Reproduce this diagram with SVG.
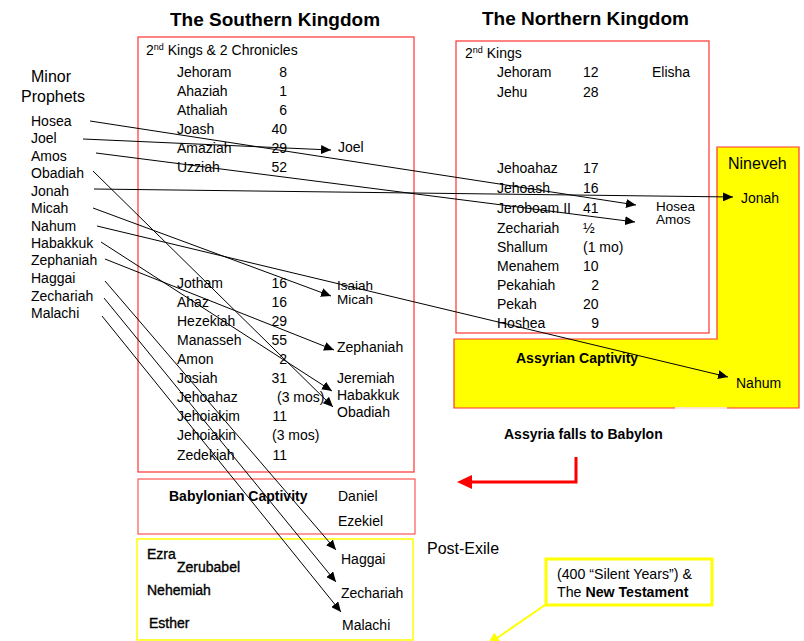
<svg xmlns="http://www.w3.org/2000/svg" width="804" height="641" viewBox="0 0 804 641">
<style>
text{font-family:"Liberation Sans",Arial,sans-serif;font-size:14px;fill:#000}
.title{font-size:19px;font-weight:bold}
.big{font-size:16px}
.b{font-weight:bold}
.sm{font-size:14.2px}
.pe{font-size:14px;stroke:#000;stroke-width:0.35}
.tight{font-size:13.5px}
.redbox{fill:#fff;stroke:#f33;stroke-width:1.2}
.con{stroke:#000;stroke-width:1;fill:none;marker-end:url(#ah)}
</style>
<defs>
<marker id="ah" markerUnits="userSpaceOnUse" markerWidth="11" markerHeight="9" refX="10" refY="4.5" orient="auto">
<path d="M0,0 L10,4.5 L0,9 z" fill="#000"/>
</marker>
<marker id="yah" markerUnits="userSpaceOnUse" markerWidth="14" markerHeight="12" refX="13" refY="6" orient="auto">
<path d="M0,0 L13,6 L0,12 z" fill="#ff0"/>
</marker>
</defs>
<rect width="804" height="641" fill="#fff"/>

<g id="titles">
<text class="title" x="170" y="26">The Southern Kingdom</text>
<text class="title" x="482" y="25">The Northern Kingdom</text>
</g>

<g id="minor-prophets">
<text class="big" x="31" y="82">Minor</text>
<text class="big" x="21" y="102">Prophets</text>
<text x="31" y="126">Hosea</text>
<text x="31" y="143">Joel</text>
<text x="31" y="161">Amos</text>
<text x="31" y="178">Obadiah</text>
<text x="31" y="196">Jonah</text>
<text x="31" y="213">Micah</text>
<text x="31" y="231">Nahum</text>
<text x="31" y="248">Habakkuk</text>
<text x="31" y="265">Zephaniah</text>
<text x="31" y="283">Haggai</text>
<text x="31" y="301">Zechariah</text>
<text x="31" y="318">Malachi</text>
</g>

<g id="southern-kingdom">
<rect class="redbox" x="138" y="37" width="276" height="435"/>
<text x="146" y="55">2<tspan font-size="9" dy="-5">nd</tspan><tspan dy="5"> Kings &amp; 2 Chronicles</tspan></text>
<text x="177" y="77">Jehoram</text><text x="287" y="77" text-anchor="end">8</text>
<text x="177" y="96">Ahaziah</text><text x="287" y="96" text-anchor="end">1</text>
<text x="177" y="115">Athaliah</text><text x="287" y="115" text-anchor="end">6</text>
<text x="177" y="134">Joash</text><text x="287" y="134" text-anchor="end">40</text>
<text x="177" y="153">Amaziah</text><text x="287" y="153" text-anchor="end">29</text>
<text x="177" y="172">Uzziah</text><text x="287" y="172" text-anchor="end">52</text>
<text x="177" y="288">Jotham</text><text x="287" y="288" text-anchor="end">16</text>
<text x="177" y="307">Ahaz</text><text x="287" y="307" text-anchor="end">16</text>
<text x="177" y="326">Hezekiah</text><text x="287" y="326" text-anchor="end">29</text>
<text x="177" y="345">Manasseh</text><text x="287" y="345" text-anchor="end">55</text>
<text x="177" y="364">Amon</text><text x="287" y="364" text-anchor="end">2</text>
<text x="177" y="383">Josiah</text><text x="287" y="383" text-anchor="end">31</text>
<text x="177" y="402">Jehoahaz</text><text x="277" y="402">(3 mos)</text>
<text x="177" y="421">Jehoiakim</text><text x="287" y="421" text-anchor="end">11</text>
<text x="177" y="440">Jehoiakin</text><text x="272" y="440">(3 mos)</text>
<text x="177" y="460">Zedekiah</text><text x="287" y="460" text-anchor="end">11</text>
</g>

<g id="southern-prophets">
<text x="338" y="152">Joel</text>
<text class="tight" x="337" y="290">Isaiah</text>
<text class="tight" x="337" y="304">Micah</text>
<text x="337" y="352">Zephaniah</text>
<text x="337" y="383">Jeremiah</text>
<text x="337" y="400">Habakkuk</text>
<text x="337" y="417">Obadiah</text>
</g>

<g id="babylonian-captivity">
<rect x="138" y="479" width="277" height="55" fill="#fff" stroke="#f55" stroke-width="1.2"/>
<text class="b" x="169" y="501">Babylonian Captivity</text>
<text x="338" y="501">Daniel</text>
<text x="338" y="526">Ezekiel</text>
</g>

<g id="post-exile">
<rect x="137" y="539" width="276" height="101" fill="#fff" stroke="#ff0" stroke-width="1.5"/>
<text class="big" x="427" y="554">Post-Exile</text>
<text class="pe" x="147" y="559">Ezra</text>
<text class="pe" x="177" y="572">Zerubabel</text>
<text class="pe" x="147" y="595">Nehemiah</text>
<text class="pe" x="149" y="628">Esther</text>
<text x="341" y="564">Haggai</text>
<text x="341" y="598">Zechariah</text>
<text x="342" y="630">Malachi</text>
</g>

<g id="assyria">
<path d="M717,147 H799 V408 H454 V339 H717 Z" fill="#ff0" stroke="#f33" stroke-width="1.2"/>
<line x1="675" y1="408" x2="727" y2="408" stroke="#fff" stroke-width="1.5"/>
<text class="big" x="728" y="169">Nineveh</text>
<text x="741" y="203">Jonah</text>
<text class="b" x="516" y="363">Assyrian Captivity</text>
<text x="736" y="388">Nahum</text>
</g>

<g id="northern-kingdom">
<rect class="redbox" x="456" y="41" width="253" height="292"/>
<text x="465" y="58">2<tspan font-size="9" dy="-5">nd</tspan><tspan dy="5"> Kings</tspan></text>
<text x="497" y="77">Jehoram</text><text x="583" y="77">12</text><text x="652" y="77">Elisha</text>
<text x="497" y="97">Jehu</text><text x="583" y="97">28</text>
<text x="497" y="173">Jehoahaz</text><text x="583" y="173">17</text>
<text x="497" y="193">Jehoash</text><text x="583" y="193">16</text>
<text x="497" y="213">Jeroboam II</text><text x="583" y="213">41</text>
<text x="497" y="233">Zechariah</text><text x="583" y="233">½</text>
<text x="497" y="252">Shallum</text><text x="583" y="252">(1 mo)</text>
<text x="497" y="271">Menahem</text><text x="583" y="271">10</text>
<text x="497" y="290">Pekahiah</text><text x="599" y="290" text-anchor="end">2</text>
<text x="497" y="309">Pekah</text><text x="583" y="309">20</text>
<text x="497" y="328">Hoshea</text><text x="599" y="328" text-anchor="end">9</text>
<text class="tight" x="656" y="211">Hosea</text>
<text class="tight" x="656" y="224">Amos</text>
</g>

<g id="babylon-fall">
<text class="b" x="504" y="439">Assyria falls to Babylon</text>
</g>

<g id="silent-years">
<rect x="546" y="559" width="166" height="46" fill="#fff" stroke="#ff0" stroke-width="3"/>
<text class="sm" x="557" y="579">(400 “Silent Years”) &amp;</text>
<text class="sm" x="557" y="597">The <tspan class="b">New Testament</tspan></text>
</g>

<g id="connectors">
<line class="con" x1="90" y1="121" x2="636" y2="205"/>
<line class="con" x1="83" y1="139" x2="331" y2="150"/>
<line class="con" x1="96" y1="153" x2="635" y2="222"/>
<line class="con" x1="93" y1="171" x2="333" y2="407"/>
<line class="con" x1="94" y1="189" x2="733" y2="197"/>
<line class="con" x1="93" y1="208" x2="331" y2="296"/>
<line class="con" x1="97" y1="226" x2="728" y2="377"/>
<line class="con" x1="101" y1="242" x2="332" y2="391"/>
<line class="con" x1="105" y1="259" x2="334" y2="350"/>
<line class="con" x1="105" y1="281" x2="336" y2="550"/>
<line class="con" x1="104" y1="298" x2="336" y2="582"/>
<line class="con" x1="102" y1="316" x2="341" y2="612"/>
<path d="M576,457 V482 H470" fill="none" stroke="#f00" stroke-width="3"/>
<path d="M457,482 L472,475 L472,489 Z" fill="#f00"/>
<line x1="545" y1="605" x2="487" y2="645" stroke="#ff0" stroke-width="2" marker-end="url(#yah)"/>
</g>
</svg>
